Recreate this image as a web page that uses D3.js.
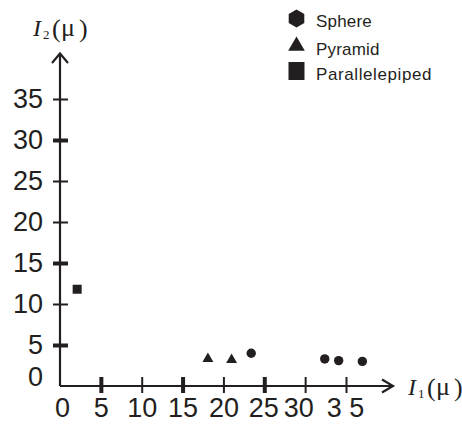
<!DOCTYPE html>
<html>
<head>
<meta charset="utf-8">
<script src="https://cdn.jsdelivr.net/npm/d3@7/dist/d3.min.js"></script>
<style>
  html,body{margin:0;padding:0;background:#fff;}
  svg{display:block;}
</style>
</head>
<body>
<svg id="chart" width="462" height="425"></svg>
<script>
// ---- data ----
const xTicks = [0, 5, 10, 15, 20, 25, 30, 35];
const xTickLabels = ["0", "5", "10", "15", "20", "25", "30", "3 5"];
const yTicks = [0, 5, 10, 15, 20, 25, 30, 35];
const yTickLabels = ["0", "5", "10", "15", "20", "25", "30", "35"];

const sphereX = [23.4, 32.4, 34.1, 37.0];
const sphereY = [4.0, 3.3, 3.1, 3.0];
const pyramidX = [18.1, 21.0];
const pyramidY = [3.3, 3.2];
const parallX = [2.1];
const parallY = [11.8];

const legendLabels = ["Sphere", "Pyramid", "Parallelepiped"];

// ---- styling ----
const ink = "#231f20";
const boldX = [5, 15, 25];
const boldY = [5, 15, 30];
const sans = "'Liberation Sans', Arial, sans-serif";
const serif = "'Liberation Serif', 'Times New Roman', serif";

const svg = d3.select("#chart");
const x = d3.scaleLinear().domain([0, 35]).range([60, 346]);
const y = d3.scaleLinear().domain([0, 35]).range([386, 99]);

// axes lines with arrows
svg.append("path").attr("d", `M${x(0)},${y(0)}H393`).attr("stroke", ink).attr("stroke-width", 2.2).attr("fill", "none");
svg.append("path").attr("d", `M${x(0)},${y(0)}V54`).attr("stroke", ink).attr("stroke-width", 2.2).attr("fill", "none");
svg.append("path").attr("d", "M382,379.5L393,386L382,392.5").attr("stroke", ink).attr("stroke-width", 2.2).attr("fill", "none");
svg.append("path").attr("d", "M52,63L60,53.5L68,63").attr("stroke", ink).attr("stroke-width", 2.2).attr("fill", "none");

// x axis
const gx = svg.append("g").attr("transform", `translate(0,${y(0)})`)
  .call(d3.axisBottom(x).tickValues(xTicks).tickFormat((d, i) => xTickLabels[i]).tickSize(0));
gx.select(".domain").remove();
gx.selectAll(".tick line")
  .attr("y1", -9).attr("y2", 7)
  .attr("stroke", ink)
  .attr("stroke-width", d => boldX.includes(d) ? 4 : 2)
  .attr("display", d => d === 0 ? "none" : null);
const xNudge = {0: 2, 25: -1, 30: -7, 35: -1};
gx.selectAll(".tick text")
  .attr("font-family", sans).attr("font-size", 27).attr("fill", ink)
  .attr("y", 31).attr("dy", 0)
  .attr("dx", d => xNudge[d] || 0);

// y axis
const gy = svg.append("g").attr("transform", `translate(${x(0)},0)`)
  .call(d3.axisLeft(y).tickValues(yTicks).tickFormat((d, i) => yTickLabels[i]).tickSize(0));
gy.select(".domain").remove();
gy.selectAll(".tick line")
  .attr("x1", -7).attr("x2", 8)
  .attr("stroke", ink)
  .attr("stroke-width", d => boldY.includes(d) ? 4 : 2)
  .attr("display", d => d === 0 ? "none" : null);
gy.selectAll(".tick text")
  .attr("font-family", sans).attr("font-size", 27).attr("fill", ink)
  .attr("x", -17).attr("text-anchor", "end")
  .attr("dy", d => d === 0 ? "-0.02em" : "0.32em");

// axis titles
function axisTitle(x0, base, sub) {
  const t = svg.append("text").attr("fill", ink).attr("font-family", serif);
  t.append("tspan").attr("x", x0).attr("y", base).attr("font-style", "italic").attr("font-size", 24).text("I");
  t.append("tspan").attr("x", x0 + 10).attr("y", base + 3).attr("font-size", 13).text(sub);
  t.append("tspan").attr("x", x0 + 19).attr("y", base + 1).attr("font-size", 26).text("(");
  t.append("tspan").attr("x", x0 + 28).attr("y", base).attr("font-size", 26).text("μ");
  t.append("tspan").attr("x", x0 + 46).attr("y", base + 1).attr("font-size", 26).text(")");
}
axisTitle(33, 36, "2");
axisTitle(408, 395, "1");

// marks
const hexPath = (r) => {
  const pts = d3.range(6).map(k => {
    const a = Math.PI / 6 + k * Math.PI / 3;
    return [r * Math.cos(a), r * Math.sin(a)];
  });
  return d3.line().curve(d3.curveLinearClosed)(pts);
};

svg.append("g").selectAll("circle")
  .data(sphereX.map((v, i) => [v, sphereY[i]]))
  .join("circle")
  .attr("cx", d => x(d[0])).attr("cy", d => y(d[1])).attr("r", 4.7).attr("fill", ink);

svg.append("g").selectAll("path")
  .data(pyramidX.map((v, i) => [v, pyramidY[i]]))
  .join("path")
  .attr("transform", d => `translate(${x(d[0])},${y(d[1])})`)
  .attr("d", d3.symbol(d3.symbolTriangle, 52)())
  .attr("fill", ink);

svg.append("g").selectAll("path")
  .data(parallX.map((v, i) => [v, parallY[i]]))
  .join("path")
  .attr("transform", d => `translate(${x(d[0])},${y(d[1])})`)
  .attr("d", d3.symbol(d3.symbolSquare, 81)())
  .attr("fill", ink);

// legend
const legendY = [18.5, 46, 71];
const lg = svg.append("g");
legendLabels.forEach((lab, i) => {
  const g = lg.append("g").attr("transform", `translate(296.5,${legendY[i]})`);
  if (i === 0) g.append("path").attr("d", hexPath(9)).attr("fill", ink);
  if (i === 1) g.append("path").attr("d", d3.symbol(d3.symbolTriangle, 120)()).attr("fill", ink);
  if (i === 2) g.append("rect").attr("x", -8).attr("y", -9).attr("width", 16).attr("height", 18).attr("fill", ink);
  g.append("text").attr("x", 19.5).attr("y", 8.5)
    .attr("font-family", sans).attr("font-size", 17).attr("fill", ink)
    .attr("letter-spacing", i === 2 ? 0.6 : 0.2)
    .text(lab);
});
</script>
</body>
</html>
